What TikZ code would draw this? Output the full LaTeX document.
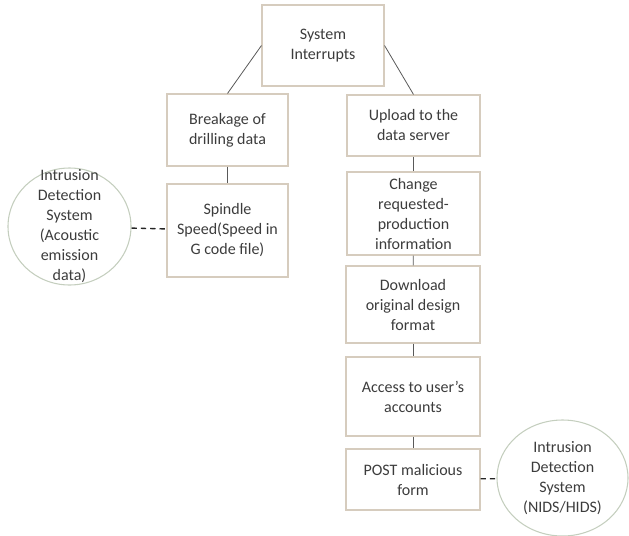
\documentclass[tikz,border=0pt]{standalone}
\usepackage{fontspec}
\setmainfont{Carlito}
\definecolor{boxline}{RGB}{214,204,190}
\definecolor{ringline}{RGB}{196,206,190}
\definecolor{txt}{RGB}{60,60,60}

\tikzstyle{stage} = [rectangle, draw=boxline, line width=0.8pt, text=txt, align=center, font=\fontsize{12}{15}\selectfont]
\tikzstyle{ids} = [ellipse, draw=ringline, line width=0.8pt, text=txt, align=center, inner sep=0pt, font=\fontsize{12}{15}\selectfont]
\tikzstyle{link} = [draw=black!65, line width=0.6pt]
\tikzstyle{dashlink} = [draw=black!85, line width=1pt, dash pattern=on 4pt off 3pt]

\usetikzlibrary{shapes.geometric}

\begin{document}
\begin{tikzpicture}[x=0.75pt, y=-0.75pt]
\useasboundingbox (0,0) rectangle (629,536);

% Nodes
\node (interrupts) [stage, minimum width=91.5pt, minimum height=60.75pt] at (323,45.5) {System\\Interrupts};
\node (breakage) [stage, minimum width=90.75pt, minimum height=54pt] at (227.5,130) {Breakage of\\drilling data};
\node (spindle) [stage, minimum width=90.75pt, minimum height=69.75pt] at (227.5,230.5) {Spindle\\Speed(Speed in\\G code file)};
\node (idsleft) [ids, inner ysep=-14pt, minimum width=92.25pt, minimum height=87.75pt] at (69.5,226.5) {Intrusion\\Detection\\System\\(Acoustic\\emission\\data)};
\node (upload) [stage, minimum width=99.75pt, minimum height=45.75pt] at (413.5,125.5) {Upload to the\\data server};
\node (change) [stage, minimum width=99.75pt, minimum height=62.25pt] at (413.5,213.5) {Change\\requested-\\production\\information};
\node (download) [stage, minimum width=100.5pt, minimum height=57.75pt] at (413,304.5) {Download\\original design\\format};
\node (access) [stage, minimum width=100.5pt, minimum height=59.25pt] at (413,396.5) {Access to user's\\accounts};
\node (post) [stage, minimum width=100.5pt, minimum height=45.75pt] at (413,479.5) {POST malicious\\form};
\node (idsright) [ids, minimum width=98.25pt, minimum height=87pt] at (562.5,478) {Intrusion\\Detection\\System\\(NIDS/HIDS)};

% Lines
\draw [link] (interrupts.west) -- (breakage.north);
\draw [link] (interrupts.east) -- (upload.north);
\draw [link] (breakage) -- (spindle);
\draw [link] (upload) -- (change);
\draw [link] (change) -- (download);
\draw [link] (download) -- (access);
\draw [link] (access) -- (post);
\draw [dashlink] (idsleft) -- (spindle);
\draw [dashlink] (post) -- (idsright);

\end{tikzpicture}
\end{document}
